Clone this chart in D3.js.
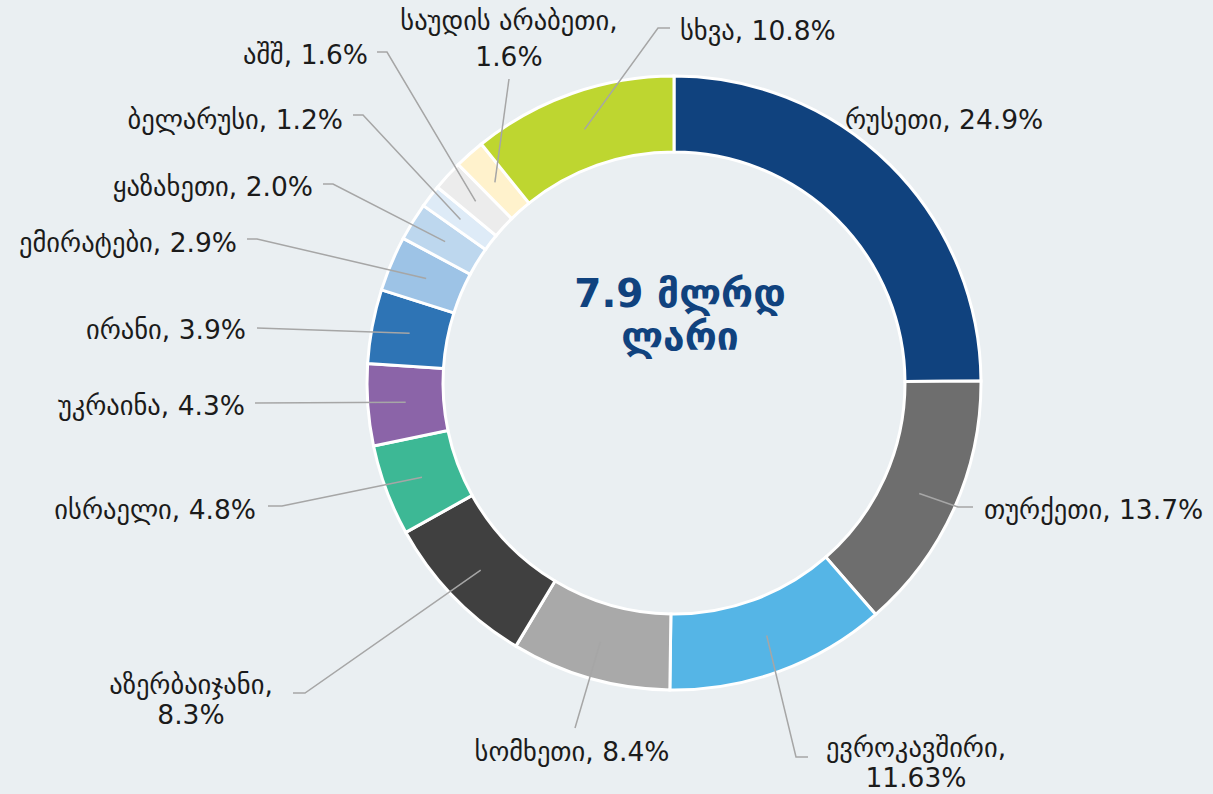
<!DOCTYPE html>
<html>
<head>
<meta charset="utf-8">
<script src="https://cdn.jsdelivr.net/npm/d3@7"></script>
<style>
  html, body { margin: 0; padding: 0; background: #eaeff2; }
  svg { display: block; }
  .lbl { font-family: "DejaVu Sans", sans-serif; font-size: 26.5px; fill: #1b1b1b; }
  .center { font-family: "DejaVu Sans", sans-serif; font-weight: bold; font-size: 39px; fill: #10427e; }
</style>
</head>
<body>
<div id="chart"></div>
<script>
// export shares by country
var countries = ["რუსეთი", "თურქეთი", "ევროკავშირი", "სომხეთი", "აზერბაიჯანი", "ისრაელი",
                 "უკრაინა", "ირანი", "ემირატები", "ყაზახეთი", "ბელარუსი", "აშშ", "საუდის არაბეთი", "სხვა"];
var shares = [24.9, 13.7, 11.63, 8.4, 8.3, 4.8, 4.3, 3.9, 2.9, 2.0, 1.2, 1.6, 1.6, 10.8];
var sliceColors = ["#10427e", "#6e6e6e", "#55b5e6", "#a9a9a9", "#404040", "#3db895", "#8b64a8",
                   "#2e74b5", "#9dc3e6", "#bdd7ee", "#deebf7", "#ececec", "#fff2cc", "#bed630"];
var centerLines = ["7.9 მლრდ", "ლარი"];

// label placement (anchor point + leader elbow), same order as countries
var labelLayout = [
  { x: 845, y: [120], anchor: "start", path: [] },
  { x: 984, y: [510], anchor: "start", path: [[958, 507], [973, 507]] },
  { x: 916, y: [748, 778], anchor: "middle", split: true, path: [[796, 757], [808, 757]] },
  { x: 572, y: [752], anchor: "middle", path: [[575, 728]] },
  { x: 191, y: [685, 715], anchor: "middle", split: true, path: [[305, 693], [293, 693]] },
  { x: 256, y: [510], anchor: "end", path: [[282, 506], [268, 506]] },
  { x: 245, y: [406], anchor: "end", path: [[255, 403]] },
  { x: 246, y: [330], anchor: "end", path: [[257, 328]] },
  { x: 237, y: [243], anchor: "end", path: [[257, 239], [247, 239]] },
  { x: 313, y: [187], anchor: "end", path: [[333, 184], [323, 184]] },
  { x: 343, y: [120], anchor: "end", path: [[363, 115], [353, 115]] },
  { x: 368, y: [55], anchor: "end", path: [[387, 52], [377, 52]] },
  { x: 509, y: [21, 57], anchor: "middle", split: true, path: [[509, 79]] },
  { x: 680, y: [31], anchor: "start", path: [[658, 28], [670, 28]] }
];

var w = 1213, h = 794;
var cx = 674, cy = 383;
var outerR = 307, innerR = 231;

var svg = d3.select("#chart").append("svg")
    .attr("width", w)
    .attr("height", h);

var g = svg.append("g").attr("transform", "translate(" + cx + "," + cy + ")");

var data = countries.map(function(c, i) {
    return { name: c, value: shares[i], color: sliceColors[i], layout: labelLayout[i] };
});

var pie = d3.pie().sort(null).value(function(d) { return d.value; });
var arc = d3.arc().innerRadius(innerR).outerRadius(outerR);
var midArc = d3.arc().innerRadius((innerR + outerR) / 2).outerRadius((innerR + outerR) / 2);

var arcs = pie(data);

g.selectAll("path.slice")
    .data(arcs)
    .enter()
    .append("path")
    .attr("class", "slice")
    .attr("d", arc)
    .attr("fill", function(d) { return d.data.color; })
    .attr("stroke", "#ffffff")
    .attr("stroke-width", 3);

function pctText(v) {
    var s = (Math.round(v * 10) / 10 === v) ? v.toFixed(1) : String(v);
    return s + "%";
}

// leader lines
var line = d3.line();
arcs.forEach(function(d) {
    var lay = d.data.layout;
    if (!lay.path.length) return;
    var c = midArc.centroid(d);
    var pts = [[c[0] + cx, c[1] + cy]].concat(lay.path);
    svg.append("path")
        .attr("d", line(pts))
        .attr("fill", "none")
        .attr("stroke", "#a6a6a6")
        .attr("stroke-width", 1.5);
});

// labels
arcs.forEach(function(d) {
    var lay = d.data.layout;
    var lines = lay.split ? [d.data.name + ",", pctText(d.data.value)]
                          : [d.data.name + ", " + pctText(d.data.value)];
    lines.forEach(function(t, k) {
        svg.append("text")
            .attr("class", "lbl")
            .attr("x", lay.x)
            .attr("y", lay.y[k])
            .attr("dy", "0.35em")
            .attr("text-anchor", lay.anchor)
            .text(t);
    });
});

// center title
centerLines.forEach(function(t, k) {
    svg.append("text")
        .attr("class", "center")
        .attr("x", 680)
        .attr("y", 293 + k * 43)
        .attr("dy", "0.35em")
        .attr("text-anchor", "middle")
        .text(t);
});
</script>
</body>
</html>
